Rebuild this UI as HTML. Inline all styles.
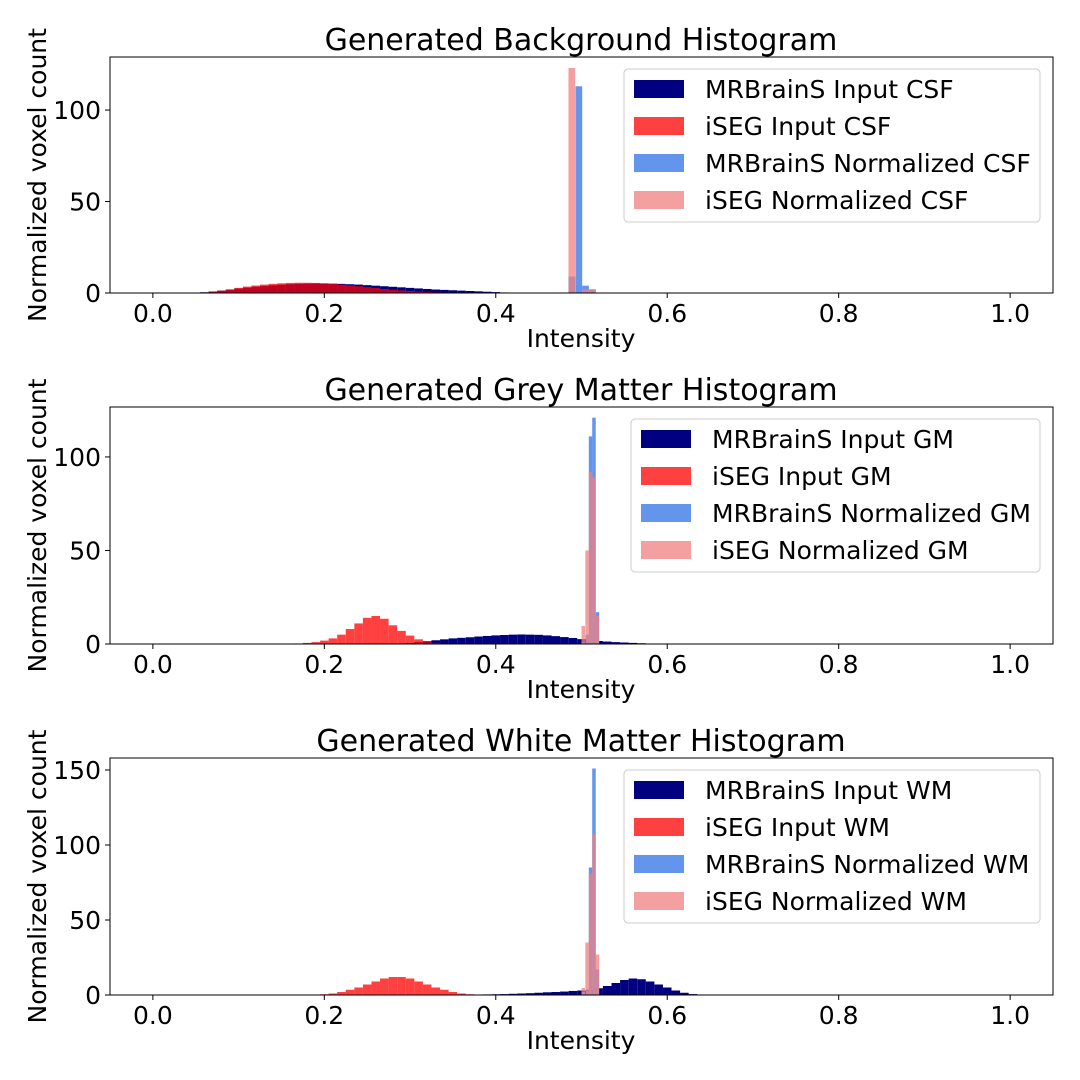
<!DOCTYPE html>
<html><head><meta charset="utf-8"><style>
html,body{margin:0;padding:0;background:#fff;}
svg{display:block;font-family:"DejaVu Sans","Liberation Sans",sans-serif;}
</style></head><body>
<svg id="fig" width="1080" height="1080" xmlns="http://www.w3.org/2000/svg"></svg>
<script>
// ---- data ----
const xTicks = [0.0, 0.2, 0.4, 0.6, 0.8, 1.0];
const xTickLabels = ["0.0", "0.2", "0.4", "0.6", "0.8", "1.0"];
const titles = ["Generated Background Histogram", "Generated Grey Matter Histogram", "Generated White Matter Histogram"];
const tissues = ["CSF", "GM", "WM"];
const yTicks1 = [0, 50, 100];
const yTicks2 = [0, 50, 100];
const yTicks3 = [0, 50, 100, 150];
const yMax = [129, 126.7, 158];

// input histograms (bin start, 0.01 step)
const mrIn1Start = 0.045;
const mrIn1 = [0.2,0.4,0.8,1.3,1.8,2.4,2.9,3.4,3.8,4.2,4.5,4.8,5,5.1,5.2,5.2,5.1,5,4.8,4.6,4.3,4,3.7,3.4,3.1,2.8,2.5,2.2,1.9,1.7,1.5,1.3,1.1,0.9,0.7,0.5,0.3,0.2];
const isIn1Start = 0.055;
const isIn1 = [0.3,0.7,1.3,2,2.8,3.5,4.1,4.6,5,5.3,5.5,5.6,5.6,5.5,5.3,5,4.6,4.2,3.7,3.2,2.7,2.2,1.8,1.4,1.1,0.8,0.6,0.4,0.3,0.2,0.1];
const mrIn2Start = 0.295;
const mrIn2 = [0.5,1,1.5,2,2.5,3,3.3,3.6,4,4.3,4.6,4.8,5,5.1,5,4.9,4.6,4.2,3.7,3.2,2.6,2,1.6,1.3,1,0.8,0.6,0.4,0.2];
const isIn2Start = 0.165;
const isIn2 = [0.3,0.6,1,1.8,3,5,8,11,14,15,13.5,10,7,4.5,2.5,1.3,0.6,0.3];
const mrIn3Start = 0.375;
const mrIn3 = [0.3,0.4,0.5,0.6,0.8,1,1.2,1.5,1.8,2,2.3,2.7,3,3.5,4.5,6,8,10,11,10.5,9,7,5,3,1.5,0.6];
const isIn3Start = 0.195;
const isIn3 = [0.5,1,2,3.5,5,7,9,11,12,12,11,9,7,5,3.5,2,1,0.5];

// normalized histograms
const norm1Starts = [0.4848, 0.493, 0.5008, 0.5088];
const mrNorm1 = [9, 113, 4, 2];
const isNorm1 = [123, 0, 2, 2];
const norm2Starts = [0.5, 0.5045, 0.5085, 0.5125, 0.5165];
const mrNorm2 = [1, 5, 111, 121, 17];
const isNorm2 = [9.6, 50, 92, 89, 15];
const norm3Starts = [0.5, 0.5045, 0.5085, 0.5125, 0.5165];
const mrNorm3 = [2, 3, 85, 151, 17];
const isNorm3 = [4.7, 35, 81, 107, 27];

const NS = "http://www.w3.org/2000/svg";
const svg = document.getElementById("fig");
function mk(tag, attrs, parent) {
  const e = document.createElementNS(NS, tag);
  for (const k in attrs) e.setAttribute(k, attrs[k]);
  (parent || svg).appendChild(e);
  return e;
}
const panels = [
  {top:57, bottom:293, yt:yTicks1, ym:yMax[0], mr:mrIn1, mrS:mrIn1Start, is:isIn1, isS:isIn1Start, ns:norm1Starts, nw:0.0078, mn:mrNorm1, isn:isNorm1, legX:624, legW:416},
  {top:407, bottom:644, yt:yTicks2, ym:yMax[1], mr:mrIn2, mrS:mrIn2Start, is:isIn2, isS:isIn2Start, ns:norm2Starts, nw:0.0041, mn:mrNorm2, isn:isNorm2, legX:631, legW:409},
  {top:758, bottom:995, yt:yTicks3, ym:yMax[2], mr:mrIn3, mrS:mrIn3Start, is:isIn3, isS:isIn3Start, ns:norm3Starts, nw:0.0041, mn:mrNorm3, isn:isNorm3, legX:624, legW:416}
];
const L = 110, R = 1053;
const xs = v => L + (v + 0.05) / 1.1 * (R - L);
panels.forEach((p, i) => {
  const g = mk("g", {});
  
  
  const ys = v => p.bottom - v / p.ym * (p.bottom - p.top);
  function bars(starts0, vals, w, fill, op, name) {
    vals.forEach((v, j) => {
      const x0 = Array.isArray(starts0) ? starts0[j] : starts0 + j * 0.01;
      if (v <= 0) return;
      const r = mk("rect", {x: xs(x0), y: ys(v), width: xs(x0 + w) - xs(x0), height: p.bottom - ys(v), fill: fill, "fill-opacity": op}, g);
      
      
    });
  }
  bars(p.mrS, p.mr, 0.01, "#000080", 1, "mrbrains-input-bar");
  bars(p.isS, p.is, 0.01, "#ff0000", 0.75, "iseg-input-bar");
  bars(p.ns, p.mn, p.nw, "#6495ed", 1, "mrbrains-normalized-bar");
  bars(p.ns, p.isn, p.nw, "#f08080", 0.75, "iseg-normalized-bar");
  const fr = mk("rect", {x: L, y: p.top, width: R - L, height: p.bottom - p.top, fill: "none", stroke: "#000", "stroke-width": 1}, g);
  
  
  xTicks.forEach((t, j) => {
    mk("line", {x1: xs(t), x2: xs(t), y1: p.bottom, y2: p.bottom + 5, stroke: "#000"}, g);
    const tx = mk("text", {x: xs(t), y: p.bottom + 29, "font-size": 25, "text-anchor": "middle"}, g);
    tx.textContent = xTickLabels[j];
    
    
  });
  p.yt.forEach(t => {
    mk("line", {x1: L - 5, x2: L, y1: ys(t), y2: ys(t), stroke: "#000"}, g);
    const ty = mk("text", {x: L - 9, y: ys(t) + 9, "font-size": 25, "text-anchor": "end"}, g);
    ty.textContent = String(t);
    
    
  });
  const xl = mk("text", {x: 581, y: p.bottom + 54, "font-size": 25, "text-anchor": "middle"}, g);
  xl.textContent = "Intensity";
  
  
  const cy = (p.top + p.bottom) / 2;
  const yl = mk("text", {x: 46, y: cy, "font-size": 25, "text-anchor": "middle", transform: "rotate(-90 46 " + cy + ")"}, g);
  yl.textContent = "Normalized voxel count";
  
  
  const ti = mk("text", {x: 581, y: p.top - 7, "font-size": 30, "text-anchor": "middle"}, g);
  ti.textContent = titles[i];
  
  
  const lg = mk("g", {}, g);
  
  
  mk("rect", {x: p.legX, y: p.top + 12, width: p.legW, height: 153, rx: 4, fill: "#fff", "fill-opacity": 0.8, stroke: "#ccc"}, lg);
  const labels = ["MRBrainS Input ", "iSEG Input ", "MRBrainS Normalized ", "iSEG Normalized "];
  const cols = ["#000080", "#ff4040", "#6495ed", "#f4a0a0"];
  labels.forEach((lab, k) => {
    const yy = p.top + 23 + k * 37;
    const e = mk("g", {}, lg);
    
    
    mk("rect", {x: p.legX + 10, y: yy, width: 50, height: 18, fill: cols[k]}, e);
    const t = mk("text", {x: p.legX + 81, y: yy + 18, "font-size": 25}, e);
    t.textContent = lab + tissues[i];
  });
});
</script>
</body></html>
